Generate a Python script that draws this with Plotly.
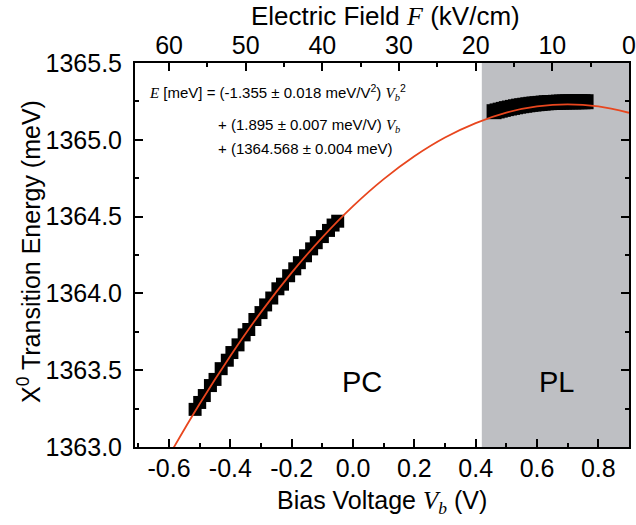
import plotly.graph_objects as go

# ---------------- data ----------------
pc_v = [-0.515, -0.50, -0.485, -0.465, -0.45, -0.43, -0.41, -0.395, -0.375, -0.355,
        -0.34, -0.32, -0.30, -0.285, -0.265, -0.245, -0.23, -0.21, -0.19, -0.175,
        -0.155, -0.135, -0.12, -0.10, -0.08, -0.065, -0.05]
pc_e = [1363.245, 1363.29, 1363.335, 1363.40, 1363.44, 1363.51, 1363.565, 1363.615,
        1363.665, 1363.73, 1363.765, 1363.83, 1363.875, 1363.925, 1363.97, 1364.03,
        1364.06, 1364.115, 1364.16, 1364.20, 1364.245, 1364.29, 1364.33, 1364.37,
        1364.41, 1364.445, 1364.47]

pl_v = [0.46, 0.47, 0.48, 0.49, 0.50, 0.51, 0.52, 0.53, 0.54, 0.55, 0.56, 0.57, 0.58,
        0.59, 0.60, 0.61, 0.62, 0.63, 0.64, 0.65, 0.66, 0.67, 0.68, 0.69, 0.70, 0.71,
        0.72, 0.73, 0.74, 0.75, 0.76]
pl_e = [1365.183, 1365.188, 1365.193, 1365.198, 1365.203, 1365.207, 1365.211, 1365.215,
        1365.219, 1365.222, 1365.225, 1365.228, 1365.231, 1365.233, 1365.235, 1365.237,
        1365.239, 1365.241, 1365.242, 1365.243, 1365.244, 1365.245, 1365.246, 1365.246,
        1365.247, 1365.247, 1365.247, 1365.248, 1365.248, 1365.248, 1365.248]

fit_v = [-0.7, -0.6, -0.5, -0.4, -0.3, -0.2, -0.1, 0.0, 0.1, 0.2, 0.3, 0.4, 0.5, 0.6,
         0.7, 0.8, 0.9]
fit_e = [1362.579, 1362.943, 1363.282, 1363.593, 1363.878, 1364.135, 1364.365, 1364.568,
         1364.744, 1364.893, 1365.015, 1365.109, 1365.177, 1365.217, 1365.231, 1365.217,
         1365.176]

x_tick_vals = [-0.6, -0.4, -0.2, 0.0, 0.2, 0.4, 0.6, 0.8]
x_tick_text = ["-0.6", "-0.4", "-0.2", "0.0", "0.2", "0.4", "0.6", "0.8"]
y_tick_vals = [1363.0, 1363.5, 1364.0, 1364.5, 1365.0, 1365.5]
y_tick_text = ["1363.0", "1363.5", "1364.0", "1364.5", "1365.0", "1365.5"]
f_tick_vals = [60, 50, 40, 30, 20, 10, 0]
f_tick_text = ["60", "50", "40", "30", "20", "10", "0"]

shade_start = 0.42          # start of PL region (V)
v_builtin = 0.9             # V where F = 0
field_per_volt = 40.0       # kV/cm per V

x_range = [-0.711, 0.9]
y_range = [1363.0, 1365.5]
f_range = [field_per_volt * (v_builtin - x_range[0]), field_per_volt * (v_builtin - x_range[1])]

FONT = "Liberation Sans"
RED = "#E8461E"
GRAY = "rgb(190,191,195)"

fig = go.Figure()

fig.add_trace(go.Scatter(x=pc_v, y=pc_e, mode="markers",
                         marker=dict(symbol="square", size=13, color="black", line=dict(width=0)),
                         showlegend=False, hoverinfo="skip"))
fig.add_trace(go.Scatter(x=pl_v, y=pl_e, mode="markers",
                         marker=dict(symbol="square", size=15, color="black", line=dict(width=0)),
                         showlegend=False, hoverinfo="skip"))
fig.add_trace(go.Scatter(x=fit_v, y=fit_e, mode="lines", line=dict(color=RED, width=1.8, shape="spline"),
                         showlegend=False, hoverinfo="skip"))
# invisible trace bound to top axis so that it is drawn
fig.add_trace(go.Scatter(x=[field_per_volt * (v_builtin - v) for v in pc_v], y=pc_e, xaxis="x2",
                         mode="markers", marker=dict(opacity=0), showlegend=False, hoverinfo="skip"))

fig.add_shape(type="rect", xref="x", yref="paper", x0=shade_start, x1=x_range[1], y0=0, y1=1,
              fillcolor=GRAY, line=dict(width=0), layer="below")

axis_common = dict(showline=True, linecolor="black", linewidth=2, ticks="inside",
                   ticklen=8, tickwidth=2, tickcolor="black", showgrid=False, zeroline=False,
                   automargin=False,
                   tickfont=dict(family=FONT, size=25, color="black"))

fig.update_layout(
    width=636, height=525,
    margin=dict(l=135, r=7, t=63, b=78),
    paper_bgcolor="white", plot_bgcolor="white",
    font=dict(family=FONT, color="black"),
    xaxis=dict(range=x_range, tickmode="array", tickvals=x_tick_vals, ticktext=x_tick_text,
               mirror=True, ticklabelstandoff=-2,
               minor=dict(dtick=0.1, tick0=0, ticks="inside", ticklen=4, tickwidth=2,
                          tickcolor="black"),
               **axis_common),
    yaxis=dict(range=y_range, tickmode="array", tickvals=y_tick_vals, ticktext=y_tick_text,
               mirror="ticks", ticklabelstandoff=6,
               minor=dict(dtick=0.25, tick0=1363.0, ticks="inside", ticklen=4,
                          tickwidth=2, tickcolor="black"),
               **axis_common),
    xaxis2=dict(range=f_range, overlaying="x", side="top", anchor="y", tickmode="array",
                tickvals=f_tick_vals, ticktext=f_tick_text, ticklabelstandoff=-3,
                minor=dict(dtick=5, tick0=0, ticks="inside", ticklen=4, tickwidth=2,
                           tickcolor="black"),
                **axis_common),
)

def px_to_paper_x(px):
    return (px - 135) / (629 - 135)

def px_to_paper_y(py):
    return (447 - py) / (447 - 63)

ann = []
ann.append(dict(text="X<sup>0</sup> Transition Energy (meV)", textangle=-90,
                x=px_to_paper_x(29), y=px_to_paper_y(252), xref="paper", yref="paper",
                xanchor="center", yanchor="middle", showarrow=False,
                font=dict(family=FONT, size=25)))
ann.append(dict(text="Bias Voltage <span style=\"font-family:'Liberation Serif'\"><i>V</i></span><sub><span style=\"font-family:'Liberation Serif'\"><i>b</i></span></sub> (V)",
                x=px_to_paper_x(382), y=px_to_paper_y(502), xref="paper", yref="paper",
                xanchor="center", yanchor="middle", showarrow=False,
                font=dict(family=FONT, size=25)))
ann.append(dict(text="Electric Field <span style=\"font-family:'Liberation Serif'\"><i>F</i></span> (kV/cm)",
                x=px_to_paper_x(385), y=px_to_paper_y(16), xref="paper", yref="paper",
                xanchor="center", yanchor="middle", showarrow=False,
                font=dict(family=FONT, size=26)))
ann.append(dict(text="PC", x=0.03, y=1363.42, xref="x", yref="y", showarrow=False,
                xanchor="center", yanchor="middle", font=dict(family=FONT, size=29)))
ann.append(dict(text="PL", x=0.665, y=1363.42, xref="x", yref="y", showarrow=False,
                xanchor="center", yanchor="middle", font=dict(family=FONT, size=29)))

sv = "<span style=\"font-family:'Liberation Serif'\"><i>%s</i></span>"
line1 = (sv % "E") + " [meV] = (-1.355 ± 0.018 meV/V<sup>2</sup>) " + (sv % "V") + "<sub>" + (sv % "b") + "</sub><sup>2</sup>"
line2 = "+ (1.895 ± 0.007 meV/V) " + (sv % "V") + "<sub>" + (sv % "b") + "</sub>"
line3 = "+ (1364.568 ± 0.004 meV)"
ann.append(dict(text=line1, x=px_to_paper_x(147), y=px_to_paper_y(92), xref="paper", yref="paper",
                xanchor="left", yanchor="middle", showarrow=False, font=dict(family=FONT, size=15)))
ann.append(dict(text=line2, x=px_to_paper_x(216), y=px_to_paper_y(125), xref="paper", yref="paper",
                xanchor="left", yanchor="middle", showarrow=False, font=dict(family=FONT, size=15)))
ann.append(dict(text=line3, x=px_to_paper_x(216), y=px_to_paper_y(148), xref="paper", yref="paper",
                xanchor="left", yanchor="middle", showarrow=False, font=dict(family=FONT, size=15)))
fig.update_layout(annotations=ann)

fig.write_html("out.html", config={"displayModeBar": False, "staticPlot": True})

# remove the browser's default body margin so the figure sits at the page origin
with open("out.html", "r", encoding="utf-8") as fh:
    html = fh.read()
html = html.replace("<body>", "<body style=\"margin:0;padding:0;overflow:hidden\">", 1)
with open("out.html", "w", encoding="utf-8") as fh:
    fh.write(html)
